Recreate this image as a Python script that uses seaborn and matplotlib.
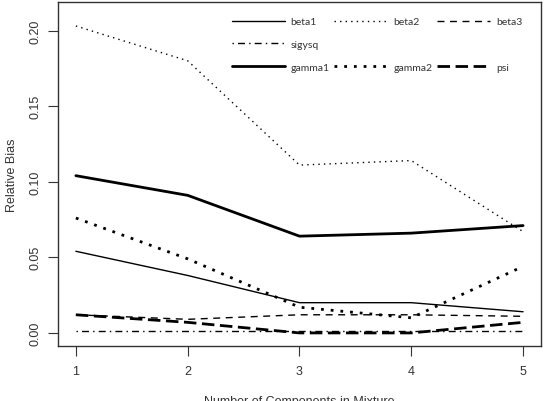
import pandas as pd
import matplotlib
matplotlib.use("Agg")
import matplotlib.pyplot as plt
import seaborn as sns
from matplotlib.lines import Line2D

# Relative bias by number of mixture components
components = [1, 2, 3, 4, 5]
beta1 = [0.054, 0.038, 0.020, 0.020, 0.014]
beta2 = [0.203, 0.180, 0.111, 0.114, 0.067]
beta3 = [0.012, 0.009, 0.012, 0.012, 0.011]
sigysq = [0.001, 0.001, 0.001, 0.001, 0.001]
gamma1 = [0.104, 0.091, 0.064, 0.066, 0.071]
gamma2 = [0.076, 0.049, 0.017, 0.010, 0.044]
psi = [0.012, 0.007, 0.000, 0.000, 0.007]

series = {
    'beta1': beta1, 'beta2': beta2, 'beta3': beta3, 'sigysq': sigysq,
    'gamma1': gamma1, 'gamma2': gamma2, 'psi': psi,
}
styles = {
    'beta1': ('-', 1.0), 'beta2': ((0, (1, 3)), 1.0), 'beta3': ((0, (5, 4)), 1.0),
    'sigysq': ((0, (1, 3, 5, 3)), 1.0),
    'gamma1': ('-', 2.0), 'gamma2': ((0, (1, 2.5)), 2.0), 'psi': ((0, (4.5, 2)), 2.0),
}

rows = []
for name, vals in series.items():
    for x, v in zip(components, vals):
        rows.append([name, x, v])
df = pd.DataFrame(rows, columns=['Series', 'Components', 'Bias'])

sns.set_style('white')
plt.rcParams['font.family'] = ['Liberation Sans', 'DejaVu Sans']

fig = plt.figure(figsize=(5.47, 4.02), dpi=100)
ax = fig.add_axes([0.106, 0.137, 0.883, 0.856])

for name in series:
    ls, lw = styles[name]
    sub = df[df['Series'] == name]
    sns.lineplot(data=sub, x='Components', y='Bias', ax=ax, color='black',
                 linestyle=ls, linewidth=lw, legend=False)

ax.set_xlim(0.84, 5.16)
ax.set_ylim(-0.0086, 0.219)
ax.set_xticks(components)
ax.set_yticks([0.0, 0.05, 0.10, 0.15, 0.20])
ax.set_yticklabels(['0.00', '0.05', '0.10', '0.15', '0.20'], rotation=90, va='center')
ax.tick_params(axis='both', direction='out', length=7, width=0.8, colors='#333333',
               labelsize=9, left=True, bottom=True)
ax.tick_params(axis='x', pad=7)
ax.tick_params(axis='y', pad=5)
for s in ax.spines.values():
    s.set_color('#333333')
    s.set_linewidth(1.0)
ax.set_xlabel('Number of Components in Mixture', fontsize=9, color='#333333', labelpad=13)
ax.set_ylabel('Relative Bias', fontsize=9, color='#333333', labelpad=8)

# legend laid out like the original: 3 columns with blanks in row two
def handle(name):
    ls, lw = styles[name]
    return Line2D([], [], color='black', linestyle=ls, linewidth=lw)

blank = Line2D([], [], color='none')
handles = [handle('beta1'), handle('sigysq'), handle('gamma1'),
           handle('beta2'), blank, handle('gamma2'),
           handle('beta3'), blank, handle('psi')]
labels = ['beta1', 'sigysq', 'gamma1', 'beta2', '', 'gamma2', 'beta3', '', 'psi']
leg = ax.legend(handles, labels, ncol=3, frameon=False, loc='upper left',
                bbox_to_anchor=(0.36, 0.956), handlelength=5.1,
                handletextpad=0.55, columnspacing=0.45, labelspacing=1.3,
                borderpad=0, borderaxespad=0,
                prop={'family': ['Lato', 'DejaVu Sans'], 'size': 7.5})
for t in leg.get_texts():
    t.set_color('#333333')

fig.savefig('out.png', dpi=100)
